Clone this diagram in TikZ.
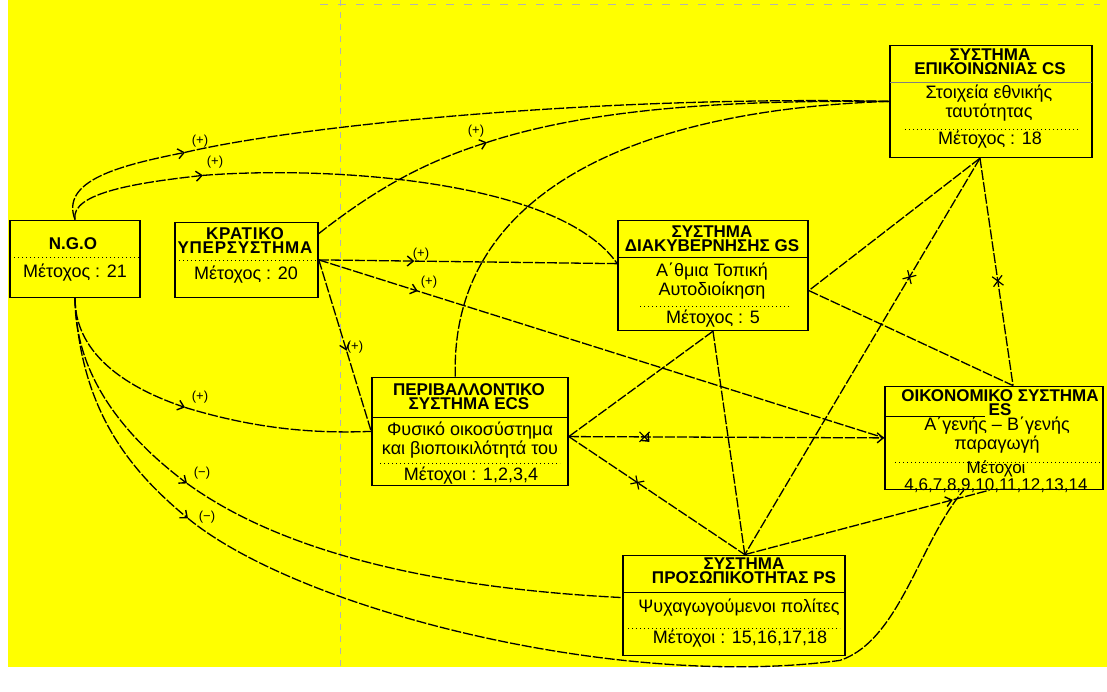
\documentclass[tikz,border=0pt]{standalone}
\usepackage{fontspec}
\setmainfont{Liberation Sans}
\newfontfamily\widefont[LetterSpace=4.5]{Liberation Sans}
\usetikzlibrary{decorations.markings,arrows.meta}
\begin{document}
\begin{tikzpicture}[x=0.5pt,y=-0.5pt,
  box/.style={draw,line width=0.8pt,inner sep=0pt},
  ttl/.style={inner sep=0pt,align=center,font=\fontsize{8.5}{7}\selectfont\bfseries},
  txt/.style={inner sep=0pt,align=center,font=\fontsize{9}{7.4}\selectfont},
  lnk/.style={line width=0.65pt,dash pattern=on 5pt off 1pt},
  sepline/.style={line width=0.5pt,dash pattern=on 0.6pt off 1.4pt},
  sign/.style={inner sep=0pt,font=\fontsize{6.5}{7}\selectfont},
  tip/.style={-{Straight Barb[length=3pt,width=5pt,line width=0.7pt]}},
  midarrow/.style={postaction={decorate},decoration={markings,
    mark=at position #1 with {\arrow{Straight Barb[length=3pt,width=5pt,line width=0.7pt]}}}},
  cross/.style={postaction={decorate},decoration={markings,
    mark=at position #1 with {\draw[solid,line width=0.6pt] (-2.5pt,-2.5pt)--(2.5pt,2.5pt) (-2.5pt,2.5pt)--(2.5pt,-2.5pt);}}}]
\definecolor{scanyellow}{rgb}{1,1,0}
\fill[white] (0,0) rectangle (1107,667);
\fill[scanyellow] (8,0) rectangle (1107,667);
\draw[gray!60,line width=0.4pt,dash pattern=on 3pt off 3pt] (340,0) -- (340,667);
\draw[gray!60,line width=0.4pt,dash pattern=on 4pt off 5pt] (320,4) -- (1100,4);

% boxes
\node[box,minimum width=65pt,minimum height=38.5pt] (ngo) at (75,258.5) {};
\node[box,minimum width=71.5pt,minimum height=37.5pt] (kr) at (246.5,259.5) {};
\node[box,minimum width=95pt,minimum height=55pt] (gs) at (713,275) {};
\node[box,minimum width=101pt,minimum height=56pt] (cs) at (991,101) {};
\node[box,minimum width=98pt,minimum height=54pt] (ecs) at (470,431) {};
\node[box,minimum width=109pt,minimum height=51.5pt] (es) at (994,437.5) {};
\node[box,minimum width=111pt,minimum height=50pt] (ps) at (734,605) {};

% texts
\node[ttl] (ngoT) at (73,243) {N.G.O};
\draw[sepline] (10,257) -- (140,257);
\node[txt] (ngoM) at (75,272) {Μέτοχος : 21};

\node[ttl] (krT) at (245,240) {\widefont ΚΡΑΤΙΚΟ\\\widefont ΥΠΕΡΣΥΣΤΗΜΑ};
\draw[sepline] (175,260) -- (318,260);
\node[txt] (krM) at (246,274) {Μέτοχος : 20};

\node[ttl] (gsT) at (712,238) {ΣΥΣΤΗΜΑ\\ΔΙΑΚΥΒΕΡΝΗΣΗΣ GS};
\draw[line width=0.6pt] (618,257) -- (808,257);
\node[txt] (gsD) at (712,281) {Α΄θμια Τοπική\\Αυτοδιοίκηση};
\draw[sepline] (640,306) -- (790,306);
\node[txt] (gsM) at (713,318) {Μέτοχος : 5};

\node[ttl] (csT) at (990,61) {ΣΥΣΤΗΜΑ\\ΕΠΙΚΟΙΝΩΝΙΑΣ CS};
\draw[gray,line width=0.5pt] (890,82) -- (1092,82);
\node[txt] (csD) at (989,103) {Στοιχεία εθνικής\\ταυτότητας};
\draw[sepline] (905,129) -- (1080,129);
\node[txt] (csM) at (990,139) {Μέτοχος : 18};

\node[ttl] (ecsT) at (469,396) {ΠΕΡΙΒΑΛΛΟΝΤΙΚΟ\\ΣΥΣΤΗΜΑ ECS};
\draw[line width=0.6pt] (372,417) -- (568,417);
\node[txt] (ecsD) at (470,440) {Φυσικό οικοσύστημα\\και βιοποικιλότητά του};
\draw[sepline] (380,463) -- (560,463);
\node[txt] (ecsM) at (471,475) {Μέτοχοι : 1,2,3,4};

\node[ttl] (esT) at (1000,402) {ΟΙΚΟΝΟΜΙΚΟ ΣΥΣΤΗΜΑ\\ES};
\draw[line width=0.6pt] (885,416) -- (985,416);
\node[txt] (esD) at (997,435) {Α΄γενής – Β΄γενής\\παραγωγή};
\draw[sepline] (895,462) -- (1100,462);
\node[txt,font=\fontsize{8.5}{7}\selectfont] (esM) at (996,476) {Μέτοχοι\\4,6,7,8,9,10,11,12,13,14};

\node[ttl] (psT) at (744,570) {ΣΥΣΤΗΜΑ\\ΠΡΟΣΩΠΙΚΟΤΗΤΑΣ PS};
\draw[line width=0.6pt] (623,592) -- (845,592);
\node[txt] (psD) at (739,607) {Ψυχαγωγούμενοι πολίτες};
\draw[sepline] (628,628) -- (840,628);
\node[txt] (psM) at (740,638) {Μέτοχοι : 15,16,17,18};

% curved links from N.G.O and others
\coordinate (a1) at (185,152);
\coordinate (a2) at (203,175);
\coordinate (a3) at (487,142);
\coordinate (a5) at (185,407);
\coordinate (a6) at (187,483);
\coordinate (a7) at (188,518);
\draw[lnk,tip] (ngo.north) .. controls (60,180) and (120,165) .. (a1);
\draw[lnk] (a1) .. controls (300,125) and (600,95) .. (cs.west);
\draw[lnk,tip] (ngo.north) .. controls (70,192) and (140,182) .. (a2);
\draw[lnk] (a2) .. controls (330,165) and (560,180) .. (gs.173);
\draw[lnk,tip] (kr.20) .. controls (380,185) and (430,160) .. (a3);
\draw[lnk] (a3) .. controls (600,105) and (750,100) .. (cs.west);
\draw[lnk] (ecs.105) .. controls (450,200) and (620,110) .. (cs.west);
\draw[lnk,tip] (ngo.south) .. controls (75,350) and (120,385) .. (a5);
\draw[lnk] (a5) .. controls (260,430) and (320,433) .. (ecs.west);
\draw[lnk,tip] (ngo.south) .. controls (75,380) and (130,440) .. (a6);
\draw[lnk] (a6) .. controls (300,565) and (480,590) .. (ps.176);
\draw[lnk,tip] (ngo.south) .. controls (80,410) and (130,470) .. (a7);
\draw[lnk] (a7) .. controls (300,610) and (620,690) .. (840,660)
  .. controls (900,640) and (920,540) .. (es.-120);
\node[sign] at (200,141) {(+)};
\node[sign] at (215,162) {(+)};
\node[sign] at (476,131) {(+)};
\node[sign] at (200,397) {(+)};
\node[sign] at (202,473) {(−)};
\node[sign] at (207,517) {(−)};

% straight links
\draw[lnk,midarrow=0.32] (kr.east) -- (gs.173);
\draw[lnk,midarrow=0.175] (kr.east) -- (es.west);
\draw[lnk,midarrow=0.53] (kr.east) -- (ecs.west);
\node[sign] at (421,254) {(+)};
\node[sign] at (429,282) {(+)};
\node[sign] at (355,347) {(+)};
\draw[lnk] (cs.-101) -- (gs.-9);
\draw[lnk,cross=0.3] (cs.-101) -- (ps.78);
\draw[lnk,cross=0.54] (cs.-101) -- (es.70);
\draw[lnk] (gs.-9) -- (es.70);
\draw[lnk] (gs.south) -- (ecs.-3);
\draw[lnk] (gs.south) -- (ps.78);
\draw[lnk,cross=0.24,tip] (ecs.-3) -- (es.west);
\draw[lnk,cross=0.39] (ecs.-3) -- (ps.78);
\draw[lnk,midarrow=0.85] (ps.78) -- (es.-95);
\end{tikzpicture}
\end{document}
